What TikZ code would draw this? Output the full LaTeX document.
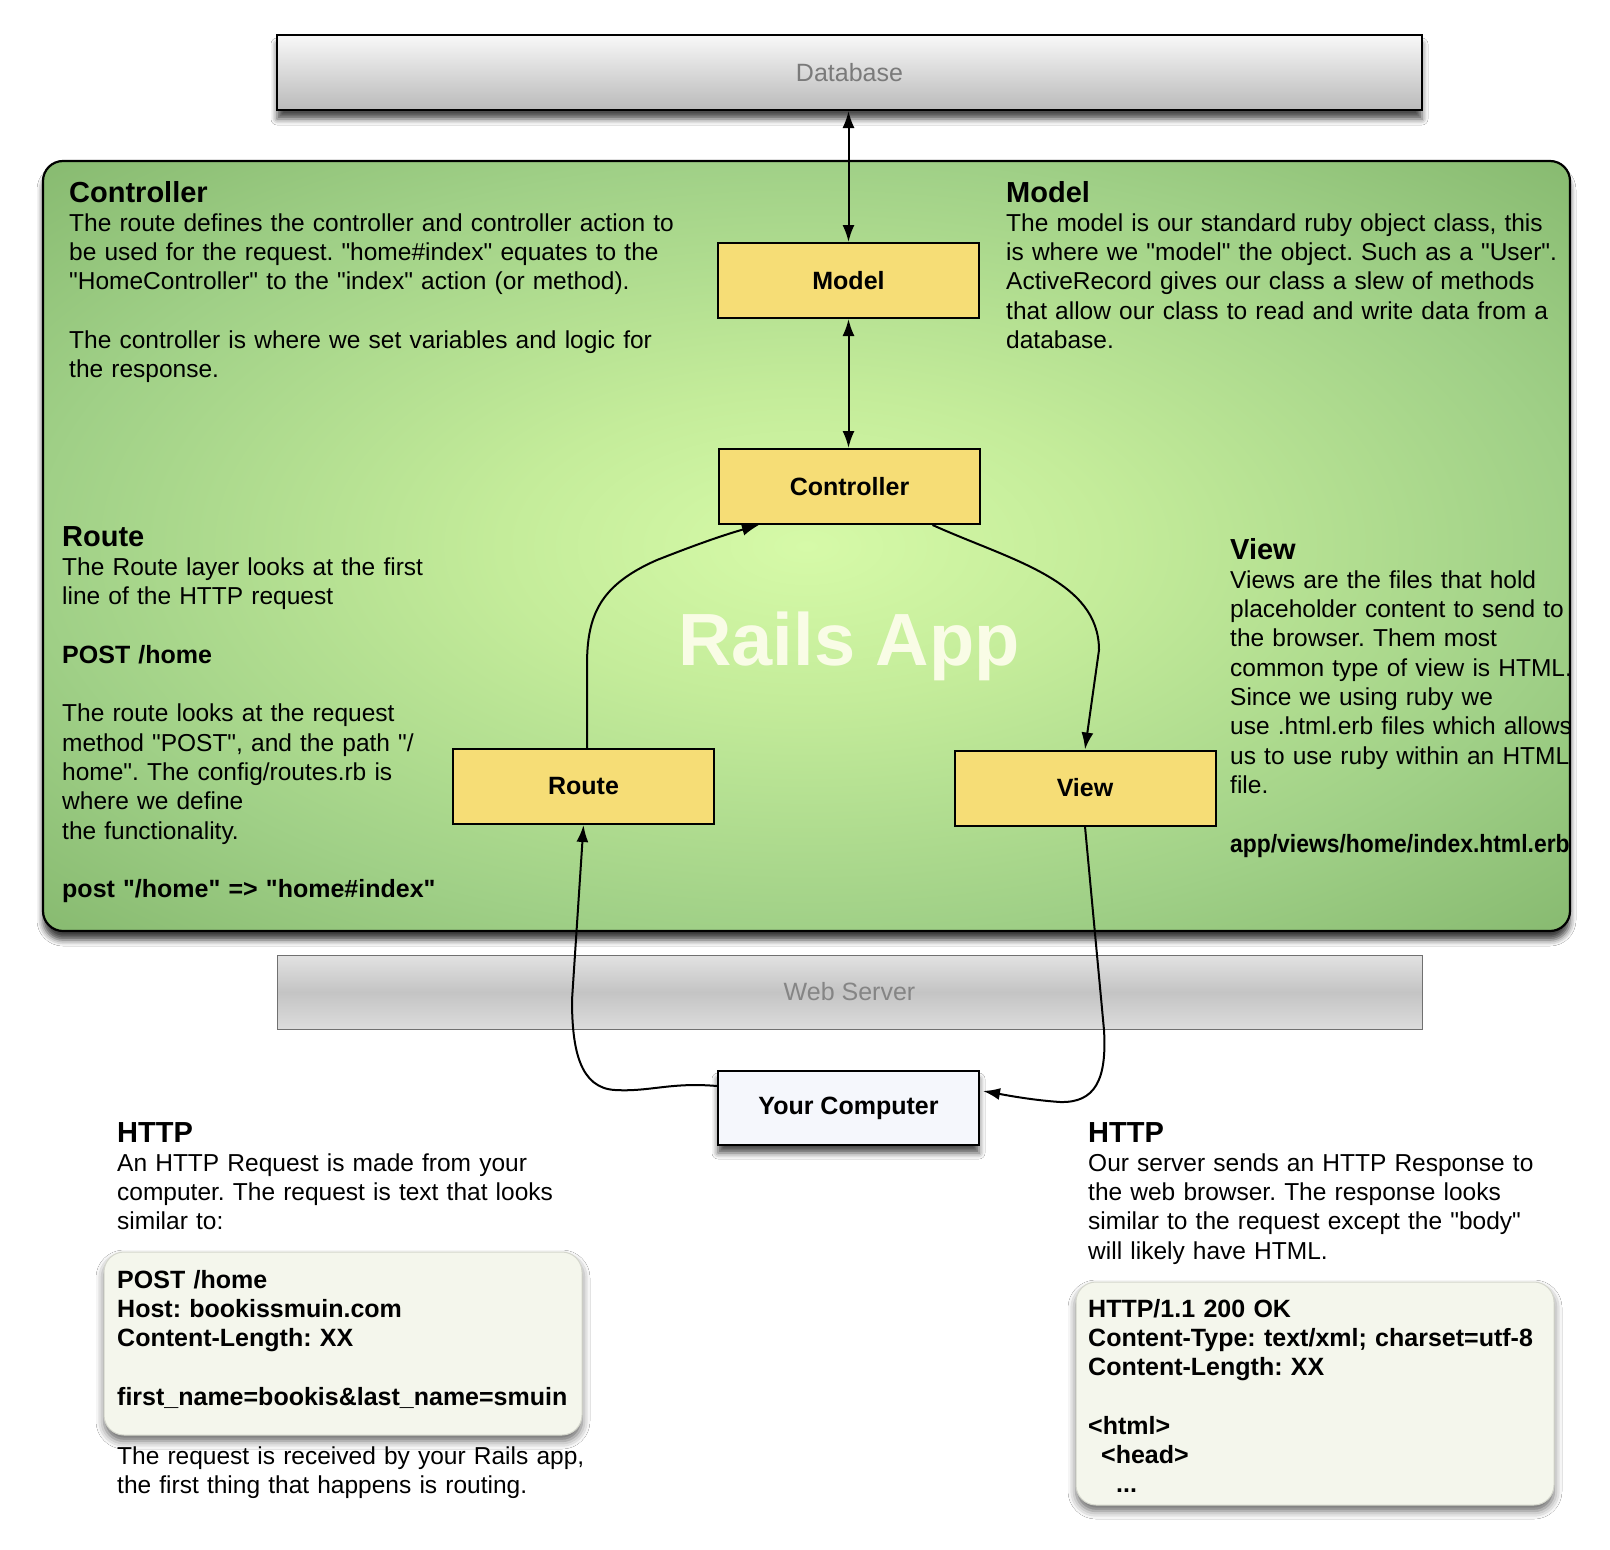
\documentclass[tikz,border=0pt]{standalone}
\usepackage{fontspec}
\setmainfont{Liberation Sans}
\usetikzlibrary{shadows.blur,arrows.meta,calc}

\definecolor{boxyellow}{HTML}{F6DD76}
\definecolor{rinner}{HTML}{D6FAA8}
\definecolor{rmid}{HTML}{C4EC9A}
\definecolor{router}{HTML}{A0D087}
\definecolor{rcorner}{HTML}{86B96F}
\definecolor{railswhite}{HTML}{F9FCE6}
\definecolor{dbtop}{HTML}{F8F8F8}
\definecolor{dbbot}{HTML}{BABABA}
\definecolor{dbtext}{HTML}{7A7A7A}
\definecolor{wstop}{HTML}{E2E2E2}
\definecolor{wsmid}{HTML}{C4C4C4}
\definecolor{wsbot}{HTML}{DCDCDC}
\definecolor{wsborder}{HTML}{707070}
\definecolor{wstext}{HTML}{858585}
\definecolor{ycfill}{HTML}{F5F7FC}
\definecolor{msgfill}{HTML}{F4F6EC}
\definecolor{msgborder}{HTML}{D4D6CC}

\pgfdeclareradialshading{railsbg}{\pgfpointorigin}{color(0bp)=(rinner); color(10bp)=(rmid); color(25bp)=(router); color(36bp)=(rcorner); color(50bp)=(rcorner)}

\newcommand\headtxt[1]{{\fontsize{29}{29.3}\selectfont\bfseries #1}}
\newcommand\bodyfont{\fontsize{24.5}{29.3}\selectfont}
\newcommand\boldfont{\fontsize{25}{29.3}\selectfont\bfseries}
\newcommand\dq{\textquotedbl}

\tikzset{
  ybox/.style={draw=black, line width=2pt, fill=boxyellow, minimum width=261pt, minimum height=75pt, inner sep=0pt, font=\fontsize{25}{30}\selectfont\bfseries},
  ycbox/.style={draw=black, line width=2pt, fill=ycfill, minimum width=261pt, minimum height=74pt, inner sep=0pt, font=\fontsize{25}{30}\selectfont\bfseries,
    blur shadow={shadow xshift=0pt, shadow yshift=-8pt, shadow blur radius=6pt, shadow opacity=70}},
  dbbox/.style={draw=black, line width=2pt, top color=dbtop, bottom color=dbbot, minimum width=1145pt, minimum height=75pt, inner sep=0pt, text=dbtext, font=\fontsize{25}{30}\selectfont,
    blur shadow={shadow xshift=0pt, shadow yshift=-9pt, shadow blur radius=6pt, shadow opacity=70}},
  wsbox/.style={draw=wsborder, line width=1pt, top color=wstop, bottom color=wsbot, middle color=wsmid, minimum width=1145pt, minimum height=74pt, inner sep=0pt, text=wstext, font=\fontsize{25}{30}\selectfont},
  railsbox/.style={draw=black, line width=2.2pt, rounded corners=20pt, shade, shading=railsbg, minimum width=1527pt, minimum height=770pt, inner sep=0pt,
    blur shadow={shadow xshift=0pt, shadow yshift=-9pt, shadow blur radius=6pt, shadow opacity=75}},
  msgbox/.style={draw=msgborder, line width=1pt, fill=msgfill, rounded corners=20pt, minimum width=478pt, inner sep=0pt,
    blur shadow={shadow xshift=0pt, shadow yshift=-6pt, shadow blur radius=8pt, shadow opacity=60}},
  body/.style={anchor=base west, inner sep=0pt, text width=720pt, align=left, font=\bodyfont},
  boldbody/.style={body, font=\boldfont},
  arr/.style={line width=2pt, -{Latex[length=17pt,width=12pt]}},
  darr/.style={line width=2pt, {Latex[length=17pt,width=12pt]}-{Latex[length=17pt,width=12pt]}},
}

\begin{document}
\frenchspacing
\setlength{\lineskiplimit}{-100pt}
\begin{tikzpicture}[x=1pt,y=-1pt]
\useasboundingbox[fill=white] (0,0) rectangle (1610,1550);

% main containers
\node[railsbox] (app) at (806.5,546) {};
\node[dbbox] (db) at (849.5,72.5) {Database};
\node[wsbox] (ws) at (849.5,992) {Web Server};

% Rails App watermark
\node[anchor=base, inner sep=0pt, text=railswhite, font=\fontsize{74}{80}\selectfont\bfseries] (railsapp) at (849,665) {Rails App};

% component boxes
\node[ybox] (model) at (848.5,280.5) {Model};
\node[ybox] (ctrl) at (849.5,486.5) {Controller};
\node[ybox] (route) at (583.5,786.5) {Route};
\node[ybox] (view) at (1085,788) {View};
\node[ycbox] (yc) at (848.5,1108) {Your Computer};

% message boxes
\node[msgbox, minimum height=183pt] (req) at (343,1343.5) {};
\node[msgbox, minimum height=223pt] (resp) at (1315,1393.5) {};

% texts inside the Rails app
\node[body] (ctrltxt) at (69,202) {\headtxt{Controller}\\
The route defines the controller and controller action to\\
be used for the request. \dq home\#index\dq{} equates to the\\
\dq HomeController\dq{} to the \dq index\dq{} action (or method).\\[29.3pt]
The controller is where we set variables and logic for\\
the response.};

\node[body] (modeltxt) at (1006,202) {\headtxt{Model}\\
The model is our standard ruby object class, this\\
is where we \dq model\dq{} the object. Such as a \dq User\dq.\\
ActiveRecord gives our class a slew of methods\\
that allow our class to read and write data from a\\
database.};

\node[body] (routetxt) at (62,546) {\headtxt{Route}\\
The Route layer looks at the first\\
line of the HTTP request\\[29.3pt]
{\boldfont POST /home}\\[29.3pt]
The route looks at the request\\
method \dq POST\dq, and the path \dq/\\
home\dq. The config/routes.rb is\\
where we define\\
the functionality.\\[29.3pt]
{\boldfont post \dq/home\dq{} => \dq home\#index\dq}};

\node[body] (viewtxt) at (1230,559) {\headtxt{View}\\
Views are the files that hold\\
placeholder content to send to\\
the browser. Them most\\
common type of view is HTML.\\
Since we using ruby we\\
use .html.erb files which allows\\
us to use ruby within an HTML\\
file.\\[29.3pt]
\scalebox{0.915}[1]{\boldfont app/views/home/index.html.erb}};

% texts below
\node[body] (httpl) at (117,1142) {\headtxt{HTTP}\\
An HTTP Request is made from your\\
computer. The request is text that looks\\
similar to:};

\node[boldbody] (reqtxt) at (117,1288) {POST /home\\
Host: bookissmuin.com\\
Content-Length: XX\\[29.3pt]
first\_name=bookis\&last\_name=smuin};

\node[body] (reqafter) at (117,1464) {The request is received by your Rails app,\\
the first thing that happens is routing.};

\node[body] (httpr) at (1088,1142) {\headtxt{HTTP}\\
Our server sends an HTTP Response to\\
the web browser. The response looks\\
similar to the request except the \dq body\dq\\
will likely have HTML.};

\node[boldbody] (resptxt) at (1088,1317) {HTTP/1.1 200 OK\\
Content-Type: text/xml; charset=utf-8\\
Content-Length: XX\\[29.3pt]
<html>\\
\hspace*{13pt}<head>\\
\hspace*{28pt}...};

% connectors
\draw[darr] (model.north |- db.south) -- (model.north);
\draw[darr] (model.south) -- (model.south |- ctrl.north);

\draw[arr] ([xshift=3.5pt]route.north) -- (587,665)
  .. controls (587,615) and (600,585) .. (657,560)
  .. controls (690,547) and (720,536) .. ([xshift=41pt]ctrl.south west);

\draw[arr] ([xshift=83pt]ctrl.south) .. controls (1010,560) and (1099,580) .. (1099,650)
  -- (view.north);

\draw[arr] ([yshift=22pt]yc.west) .. controls (670,1082) and (650,1092) .. (615,1090)
  .. controls (580,1088) and (572,1050) .. (572,1000) -- (route.south);

\draw[arr] (view.south) -- (1104,1030)
  .. controls (1107,1080) and (1095,1103) .. (1060,1102)
  .. controls (1030,1100) and (1000,1094) .. ([xshift=3pt,yshift=17pt]yc.east);
\end{tikzpicture}
\end{document}
